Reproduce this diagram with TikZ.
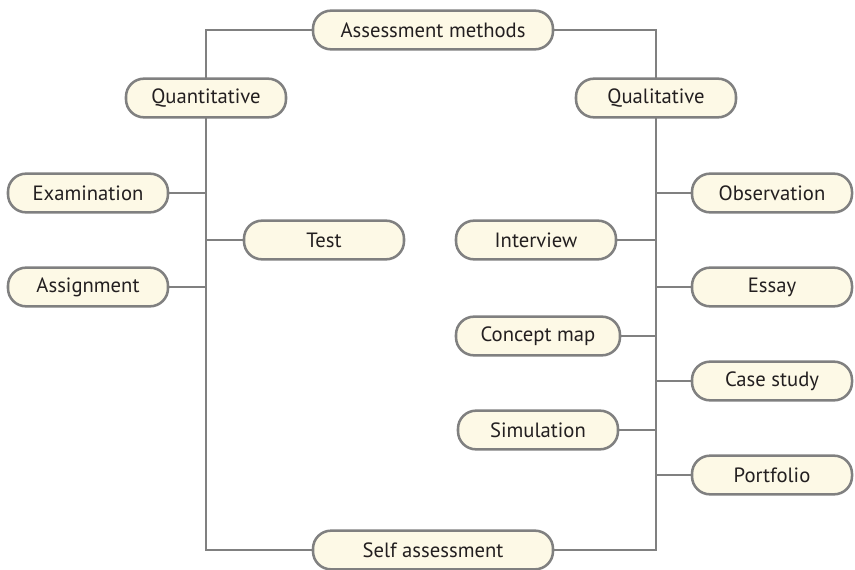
\documentclass[tikz,border=0pt]{standalone}
\usepackage{fontspec}
\setmainfont{PT Sans}
\usetikzlibrary{backgrounds}
\definecolor{boxfill}{HTML}{FDF9E6}
\definecolor{boxline}{HTML}{808080}
\definecolor{ink}{HTML}{231F20}
\tikzset{
  item/.style={rectangle, rounded corners=13.5pt, fill=boxfill, draw=boxline, line width=1.9pt,
    minimum width=120pt, minimum height=29pt, text=ink, font=\fontsize{15.5}{17}\selectfont},
  wide/.style={item, minimum width=180pt},
  link/.style={draw=boxline, line width=1.8pt}
}
\begin{document}
\begin{tikzpicture}[x=0.75pt,y=-0.75pt]
\useasboundingbox (0,0) rectangle (855,570);
% top and bottom
\node [wide] (top) at (433,30) {Assessment methods};
\node [wide] (self) at (433,550) {Self assessment};
% the two branches
\node [item] (quan) at (206,98) {Quantitative};
\node [item] (qual) at (656,98) {Qualitative};
% quantitative
\node [item] (exam) at (88,193) {Examination};
\node [item] (test) at (324,240) {Test};
\node [item] (assign) at (88,287) {Assignment};
% qualitative
\node [item] (obs) at (772,193) {Observation};
\node [item] (inter) at (536,240) {Interview};
\node [item] (essay) at (772,287) {Essay};
\node [item, minimum width=123pt] (cmap) at (538,336) {Concept map};
\node [item] (case) at (772,381) {Case study};
\node [item] (sim) at (538,430) {Simulation};
\node [item] (port) at (772,475) {Portfolio};
% lines behind the boxes
\begin{scope}[on background layer]
\draw [link] (top.west) -| (quan.center) |- (self.west);
\draw [link] (top.east) -| (qual.center) |- (self.east);
\draw [link] (exam.east) -- (exam -| quan);
\draw [link] (test.west) -- (test -| quan);
\draw [link] (assign.east) -- (assign -| quan);
\draw [link] (obs.west) -- (obs -| qual);
\draw [link] (inter.east) -- (inter -| qual);
\draw [link] (essay.west) -- (essay -| qual);
\draw [link] (cmap.east) -- (cmap -| qual);
\draw [link] (case.west) -- (case -| qual);
\draw [link] (sim.east) -- (sim -| qual);
\draw [link] (port.west) -- (port -| qual);
\end{scope}
\end{tikzpicture}
\end{document}
